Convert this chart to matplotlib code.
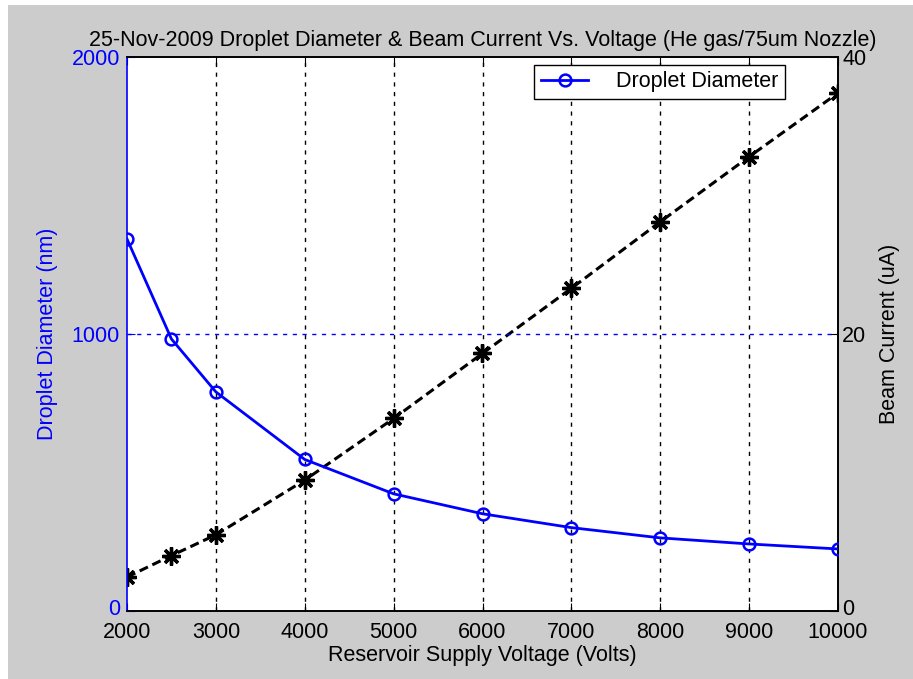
import numpy as np
import matplotlib.pyplot as plt
from matplotlib.patches import Rectangle
from matplotlib.transforms import ScaledTranslation

plt.rcParams['font.family'] = ['Liberation Sans', 'DejaVu Sans']

# Data
voltage = [2000, 2500, 3000, 4000, 5000, 6000, 7000, 8000, 9000, 10000]
droplet_nm = [1343, 982, 791, 547, 423, 351, 301, 264, 242, 224]
beam_uA = [2.45, 4.0, 5.5, 9.45, 13.9, 18.6, 23.3, 28.1, 32.8, 37.4]

x_ticks = [2000, 3000, 4000, 5000, 6000, 7000, 8000, 9000, 10000]
left_ticks = [0, 1000, 2000]
right_ticks = [0, 20, 40]

fs = 15.5

fig = plt.figure(figsize=(9.13, 6.79), dpi=100, facecolor='white')
# gray MATLAB-like figure background
fig.patches.append(Rectangle((8 / 913, 0), 1, 1 - 5 / 679, transform=fig.transFigure,
                             facecolor='#cccccc', edgecolor='none', zorder=-10))

ax1 = fig.add_axes([127 / 913, 68 / 679, 711 / 913, 554 / 679])
ax2 = ax1.twinx()

ax1.plot(voltage, droplet_nm, '-o', color='blue', lw=2, ms=8.5, mfc='none', mew=1.8,
         label='Droplet Diameter', zorder=3)
ax2.plot(voltage, beam_uA, '--', color='black', lw=2.2, dashes=(3, 1.6),
         marker=(8, 2, 0), ms=13, mew=2.4)

ax1.set_xlim(2000, 10000)
ax1.set_ylim(0, 2000)
ax2.set_ylim(0, 40)
ax1.set_xticks(x_ticks)
ax1.set_yticks(left_ticks)
ax2.set_yticks(right_ticks)

# grid: vertical black dotted, horizontal at 1000 blue dotted
for xv in x_ticks[1:-1]:
    ax1.axvline(xv, color='black', ls=(0, (3, 4)), lw=1, zorder=1)
ax1.axhline(1000, color='blue', ls=(0, (3, 4)), lw=1, zorder=1)

ax1.tick_params(axis='x', direction='in', top=True, length=6, labelsize=fs, colors='black', pad=8)
ax1.tick_params(axis='y', direction='in', length=6, labelsize=fs, colors='blue', pad=5)
ax2.tick_params(axis='y', direction='in', length=6, labelsize=fs, colors='black', pad=3)

# nudge the two "0" labels up a little so they sit above the x labels
shift = ScaledTranslation(0, 3 / 72, fig.dpi_scale_trans)
t0 = ax1.yaxis.get_major_ticks()[0].label1
t0.set_transform(t0.get_transform() + shift)
t0 = ax2.yaxis.get_major_ticks()[0].label2
t0.set_transform(t0.get_transform() + shift)

for s in ['top', 'bottom', 'right']:
    ax1.spines[s].set_color('black')
ax1.spines['left'].set_color('blue')
ax2.spines['left'].set_visible(False)
for ax in (ax1, ax2):
    for s in ax.spines.values():
        s.set_linewidth(1.2)

ax1.set_xlabel('Reservoir Supply Voltage (Volts)', fontsize=fs, labelpad=1)
ax1.set_ylabel('Droplet Diameter (nm)', fontsize=fs, color='blue', labelpad=10)
ax2.set_ylabel('Beam Current (uA)', fontsize=fs, color='black', labelpad=9)
ax1.set_title('25-Nov-2009 Droplet Diameter & Beam Current Vs. Voltage (He gas/75um Nozzle)',
              fontsize=fs, pad=8)

leg = ax1.legend(loc='upper right', bbox_to_anchor=(0.9255, 0.9856), fontsize=fs,
                 fancybox=False, framealpha=1, edgecolor='black', borderpad=0.3,
                 borderaxespad=0, handlelength=2.2, handletextpad=1.3)
leg.get_frame().set_linewidth(1.0)
ax1.set_zorder(ax2.get_zorder() + 1)
ax1.patch.set_visible(False)
ax2.patch.set_facecolor('white')
ax2.patch.set_visible(True)

fig.savefig('out.png', dpi=100, facecolor=fig.get_facecolor())
